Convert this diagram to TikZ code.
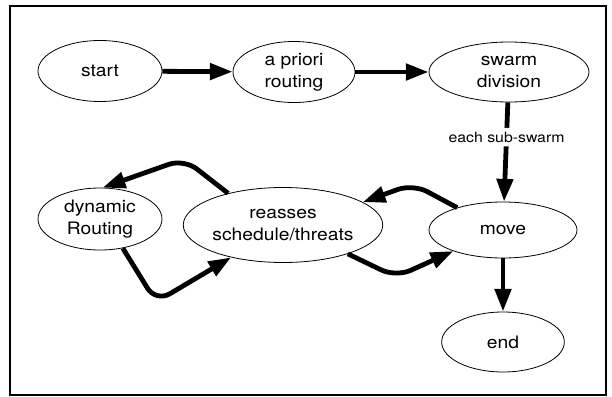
\documentclass[tikz,border=0pt]{standalone}
\usepackage{fontspec}
\setmainfont{TeX Gyre Heros}[FakeStretch=1.12]
\usetikzlibrary{arrows.meta}
\usetikzlibrary{shapes.geometric}

\tikzset{
  state/.style={draw, ellipse, line width=0.6pt, inner sep=0pt, align=center,
    font=\fontsize{12.9}{16.5}\selectfont},
  flow/.style={line width=3.6pt, -{Triangle[length=17pt,width=12pt]},
    rounded corners=12pt},
  cond/.style={fill=white, inner sep=3pt, font=\fontsize{10.6}{12}\selectfont}
}

\begin{document}
\begin{tikzpicture}[x=0.75pt,y=0.75pt,yscale=-1,xscale=1]
\useasboundingbox (0,0) rectangle (612,397);

%Frame
\draw[line width=1.8pt] (10,6) rectangle (606,395);

%Top row
\node[state, minimum width=93pt, minimum height=45.75pt] (start) at (100,71) {start};
\node[state, minimum width=91.5pt, minimum height=45.75pt] (prio) at (294,72) {a priori\\routing};
\node[state, minimum width=120pt, minimum height=45pt] (swarm) at (509,72) {swarm\\division};

%Loop row
\node[state, minimum width=93pt, minimum height=46.5pt] (dyn) at (100,219) {dynamic\\Routing};
\node[state, minimum width=147.75pt, minimum height=56.25pt] (reas) at (283,225) {reasses\\schedule/threats};
\node[state, minimum width=111pt, minimum height=42pt] (move) at (503,230) {move};
\node[state, minimum width=92pt, minimum height=45pt] (end) at (503,342) {end};

%Straight arrows
\draw[flow] (start) -- (prio);
\draw[flow] (prio) -- (swarm);
\draw[flow] (swarm) -- node[cond, pos=0.35] {each sub-swarm} (move);
\draw[flow] (move) -- (end);

%Bent arrows round the loop
\draw[flow] (reas.150) -- (184,159) -- (dyn.85);
\draw[flow] (dyn.308) -- (156,302) -- (reas.212);
\draw[flow] (move.154) -- (413,184) -- (reas.16);
\draw[flow] (reas.336) -- (396,277) -- (move.203);
\end{tikzpicture}
\end{document}
